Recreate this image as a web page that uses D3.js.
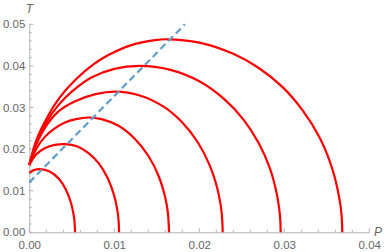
<!DOCTYPE html>
<html><head><meta charset="utf-8">
<script src="https://cdn.jsdelivr.net/npm/d3@7"></script>
<style>body{margin:0;background:#fff}svg{display:block}</style>
</head><body>
<svg id="c" width="388" height="252"></svg>
<script>
// Data: [P, T] points per curve
const curve1 = [[0,0.0143],[0.0006,0.0150],[0.00126,0.0152],[0.0024,0.0146],[0.0035,0.0128],[0.0043,0.0103],[0.0049,0.0071],[0.0052,0.0044],[0.00532,0.0026],[0.00538,0]];
const curve2 = [[0,0.0162],[0.0008,0.0187],[0.0017,0.0201],[0.0030,0.0210],[0.0042,0.0212],[0.0056,0.0207],[0.0070,0.0190],[0.0082,0.0165],[0.0092,0.0131],[0.0099,0.0094],[0.0103,0.0060],[0.01048,0.0034],[0.01056,0]];
const curve3 = [[0,0.0162],[0.0008,0.0200],[0.00185,0.0230],[0.0030,0.0250],[0.0042,0.0264],[0.0055,0.0272],[0.0069,0.0276],[0.0085,0.0272],[0.0105,0.0256],[0.0124,0.0225],[0.0140,0.0184],[0.0152,0.0136],[0.0160,0.0083],[0.0163,0.0047],[0.01644,0]];
const curve4 = [[0,0.0162],[0.0008,0.0210],[0.0018,0.0250],[0.0034,0.0290],[0.0054,0.0315],[0.0078,0.0332],[0.0101,0.0338],[0.0130,0.0329],[0.0158,0.0302],[0.0180,0.0264],[0.0198,0.0217],[0.0212,0.0162],[0.0221,0.0107],[0.0225,0.0067],[0.02268,0.0035],[0.02275,0]];
const curve5 = [[0,0.0162],[0.0008,0.0215],[0.0020,0.0264],[0.0034,0.0305],[0.0050,0.0338],[0.0073,0.0372],[0.0100,0.0393],[0.0130,0.0400],[0.0165,0.0391],[0.0200,0.0363],[0.0230,0.0319],[0.0252,0.0271],[0.0270,0.0214],[0.0283,0.0154],[0.0291,0.0094],[0.0294,0.0057],[0.02953,0.0028],[0.02957,0]];
const curve6 = [[0,0.0162],[0.0008,0.0220],[0.00205,0.0274],[0.0035,0.0322],[0.0054,0.0366],[0.0075,0.0403],[0.0093,0.0426],[0.0120,0.0450],[0.0148,0.0462],[0.0162,0.0464],[0.0200,0.0456],[0.0240,0.0429],[0.0270,0.0395],[0.0298,0.0349],[0.0322,0.0292],[0.0342,0.0226],[0.0357,0.0149],[0.0365,0.0079],[0.03675,0.0038],[0.03682,0]];
const curves = [curve1, curve2, curve3, curve4, curve5, curve6];
const dashedLine = [[0,0.0120],[0.0183,0.0500]];
const xTicks = [0, 0.01, 0.02, 0.03, 0.04];
const yTicks = [0, 0.01, 0.02, 0.03, 0.04, 0.05];
const xLabel = "P", yLabel = "T";

const svg = d3.select("#c");
const x = d3.scaleLinear().domain([0, 0.04]).range([29.3, 369.3]);
const y = d3.scaleLinear().domain([0, 0.05]).range([232.3, 24.3]);
const axisCol = "#b3b3b3", textCol = "#666";

// minor ticks
const xMinor = d3.range(0, 0.0401, 0.002).filter(v => Math.abs(v/0.01 - Math.round(v/0.01)) > 1e-6);
const yMinor = d3.range(0, 0.0501, 0.002).filter(v => Math.abs(v/0.01 - Math.round(v/0.01)) > 1e-6);

const gx = svg.append("g").attr("transform", `translate(0,${y(0)})`)
  .call(d3.axisBottom(x).tickValues(xTicks).tickFormat(d3.format(".2f")).tickSize(0).tickPadding(9));
gx.selectAll(".tick line").remove();
gx.select(".domain").attr("stroke", axisCol);
gx.selectAll("text").attr("fill", textCol).style("font", "11.5px 'Liberation Sans', Arial, sans-serif");
const gy = svg.append("g").attr("transform", `translate(${x(0)},0)`)
  .call(d3.axisLeft(y).tickValues(yTicks).tickFormat(d3.format(".2f")).tickSize(0).tickPadding(4));
gy.select(".domain").attr("stroke", axisCol);
gy.selectAll("text").attr("fill", textCol).style("font", "11.5px 'Liberation Sans', Arial, sans-serif");

// ticks pointing inward
svg.append("g").selectAll("line").data(xTicks).join("line")
  .attr("x1", d => x(d)).attr("x2", d => x(d)).attr("y1", y(0)).attr("y2", y(0) - 4)
  .attr("stroke", axisCol);
svg.append("g").selectAll("line").data(xMinor).join("line")
  .attr("x1", d => x(d)).attr("x2", d => x(d)).attr("y1", y(0)).attr("y2", y(0) - 2.5)
  .attr("stroke", axisCol);
svg.append("g").selectAll("line").data(yTicks).join("line")
  .attr("y1", d => y(d)).attr("y2", d => y(d)).attr("x1", x(0)).attr("x2", x(0) + 4)
  .attr("stroke", axisCol);
svg.append("g").selectAll("line").data(yMinor).join("line")
  .attr("y1", d => y(d)).attr("y2", d => y(d)).attr("x1", x(0)).attr("x2", x(0) + 2.5)
  .attr("stroke", axisCol);

const line = d3.line().x(d => x(d[0])).y(d => y(d[1])).curve(d3.curveCatmullRom.alpha(0.5));
svg.append("g").selectAll("path").data(curves).join("path")
  .attr("d", line).attr("fill", "none").attr("stroke", "#ff0000").attr("stroke-width", 2.2);

svg.append("path").datum(dashedLine).attr("d", d3.line().x(d => x(d[0])).y(d => y(d[1])))
  .attr("fill", "none").attr("stroke", "#5f9dcb").attr("stroke-width", 2.2).attr("stroke-dasharray", "7,4");

svg.append("text").attr("x", x(0)).attr("y", 13).attr("text-anchor", "middle")
  .attr("fill", textCol).style("font", "italic 12px 'Liberation Sans', Arial, sans-serif").text(yLabel);
svg.append("text").attr("x", 374).attr("y", y(0) + 4).attr("text-anchor", "start")
  .attr("fill", textCol).style("font", "italic 12px 'Liberation Sans', Arial, sans-serif").text(xLabel);
</script>
</body></html>
